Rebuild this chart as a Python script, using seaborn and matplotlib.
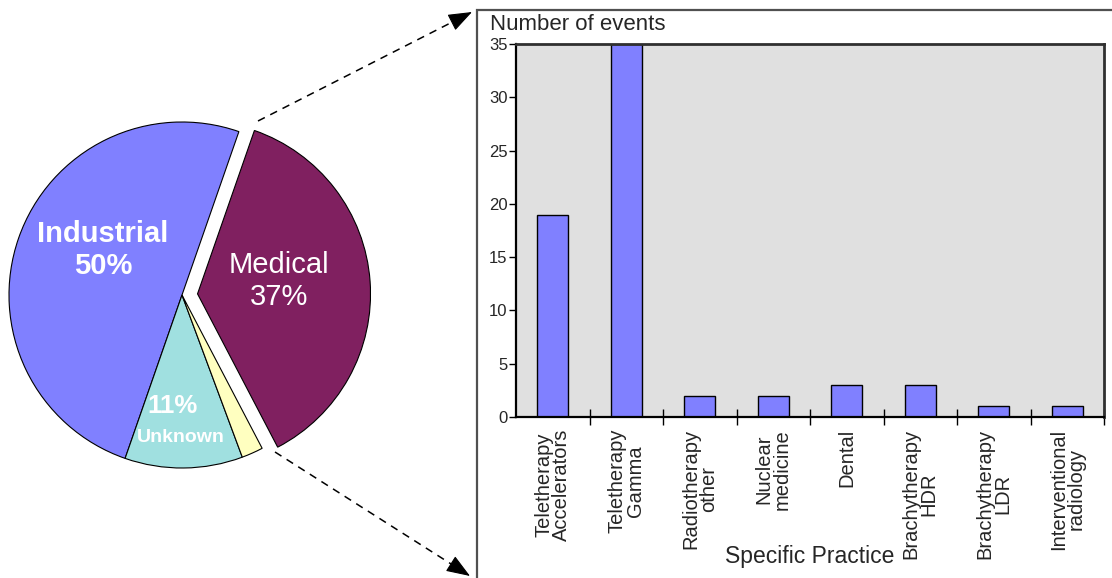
import matplotlib
matplotlib.use("Agg")
import matplotlib.pyplot as plt
from matplotlib.patches import Rectangle
import seaborn as sns
import pandas as pd

# Share of events by sector
sectors = ["Industrial", "Unknown", "Other", "Medical"]
sector_share = [50, 11, 2, 37]
sector_colors = ["#8080FF", "#A0E0E0", "#FFFFC0", "#802060"]

# Medical events broken down by practice
practices = [
    "Teletherapy\nAccelerators",
    "Teletherapy\nGamma",
    "Radiotherapy\nother",
    "Nuclear\nmedicine",
    "Dental",
    "Brachytherapy\nHDR",
    "Brachytherapy\nLDR",
    "Interventional\nradiology",
]
events = [19, 35, 2, 2, 3, 3, 1, 1]
y_ticks = [0, 5, 10, 15, 20, 25, 30, 35]

sns.set_style("white")
plt.rcParams["font.family"] = ["Liberation Sans", "DejaVu Sans"]

W, H = 1112, 578
fig = plt.figure(figsize=(W / 100, H / 100), dpi=100)


def fx(px):
    return px / W


def fy(py):
    return (H - py) / H


# ---- pie ----
cx, cy, r = 182, 295, 173
half = 1.2 * r
ax_pie = fig.add_axes([fx(cx - half), fy(cy + half), 2 * half / W, 2 * half / H])
ax_pie.pie(
    sector_share,
    colors=sector_colors,
    startangle=70.8,
    counterclock=True,
    explode=[0, 0, 0, 0.09],
    wedgeprops=dict(edgecolor="black", linewidth=0.8),
)
ax_pie.set_xlim(-1.2, 1.2)
ax_pie.set_ylim(-1.2, 1.2)
ax_pie.set_aspect("equal")
ax_pie.axis("off")


def pd_xy(px, py):
    return (px - cx) / r, (cy - py) / r


ax_pie.text(*pd_xy(103, 250), f"{sectors[0]}\n{sector_share[0]}%", color="white",
            fontsize=21, fontweight="bold", ha="center", va="center", linespacing=1.15)
ax_pie.text(*pd_xy(279, 281), f"{sectors[3]}\n{sector_share[3]}%", color="white",
            fontsize=21, ha="center", va="center", linespacing=1.15)
ax_pie.text(*pd_xy(172, 406), f"{sector_share[1]}%", color="white",
            fontsize=18.5, fontweight="bold", ha="center", va="center")
ax_pie.text(*pd_xy(181, 438), sectors[1], color="white",
            fontsize=14, fontweight="bold", ha="center", va="center")

# ---- zoom arrows ----
for (x0, y0), (x1, y1) in [((258, 121), (472, 12)), ((275, 452), (470, 576))]:
    fig.add_artist(plt.Line2D([fx(x0), fx(x1 - (x1 - x0) * 0.06)],
                              [fy(y0), fy(y1 - (y1 - y0) * 0.06)],
                              transform=fig.transFigure, color="black",
                              linewidth=1.1, linestyle=(0, (5, 4))))
    fig.add_artist(matplotlib.patches.FancyArrowPatch(
        (fx(x1 - (x1 - x0) * 0.09), fy(y1 - (y1 - y0) * 0.09)), (fx(x1), fy(y1)),
        transform=fig.transFigure, arrowstyle="-|>,head_length=0.75,head_width=0.28",
        mutation_scale=20, color="black", linewidth=0.8, shrinkA=0, shrinkB=0))

# ---- chart frame ----
fig.add_artist(Rectangle((fx(477), -0.05), 0.7, fy(10) + 0.05, transform=fig.transFigure,
                         fill=False, edgecolor="#505050", linewidth=1.6))

# ---- bar chart ----
ax = fig.add_axes([fx(516), fy(417), (1104 - 516) / W, (417 - 44) / H])
df = pd.DataFrame({"practice": practices, "events": events})
sns.barplot(data=df, x="practice", y="events", color="#8080FF", saturation=1,
            edgecolor="black", linewidth=1.0, width=0.42, ax=ax)
ax.set_facecolor("#E0E0E0")
ax.set_xlim(-0.5, len(practices) - 0.5)
ax.set_ylim(0, 35)
ax.set_yticks(y_ticks)
ax.set_yticklabels([str(v) for v in y_ticks], fontsize=12)
ax.tick_params(axis="y", direction="out", length=5, width=1, pad=1, left=True, color="black")
ax.set_xticks(range(len(practices)))
ax.set_xticklabels(practices, rotation=90, fontsize=14.5, linespacing=0.95,
                   ha="center", va="top", multialignment="center")
ax.tick_params(axis="x", length=0, pad=8.5)
ax.set_xticks([i + 0.5 for i in range(len(practices))], minor=True)
ax.tick_params(axis="x", which="minor", direction="inout", length=11, width=1,
               bottom=True, color="black")
ax.set_xlabel("")
ax.set_ylabel("")
for side in ["left", "bottom"]:
    ax.spines[side].set_color("black")
    ax.spines[side].set_linewidth(1.6)
for side in ["top", "right"]:
    ax.spines[side].set_color("#303030")
    ax.spines[side].set_linewidth(2)
    ax.spines[side].set_visible(True)

fig.text(fx(490), fy(24), "Number of events", fontsize=16, ha="left", va="center")
fig.text(fx(810), fy(557), "Specific Practice", fontsize=16.5, ha="center", va="center")

fig.savefig("out.png", dpi=100)
